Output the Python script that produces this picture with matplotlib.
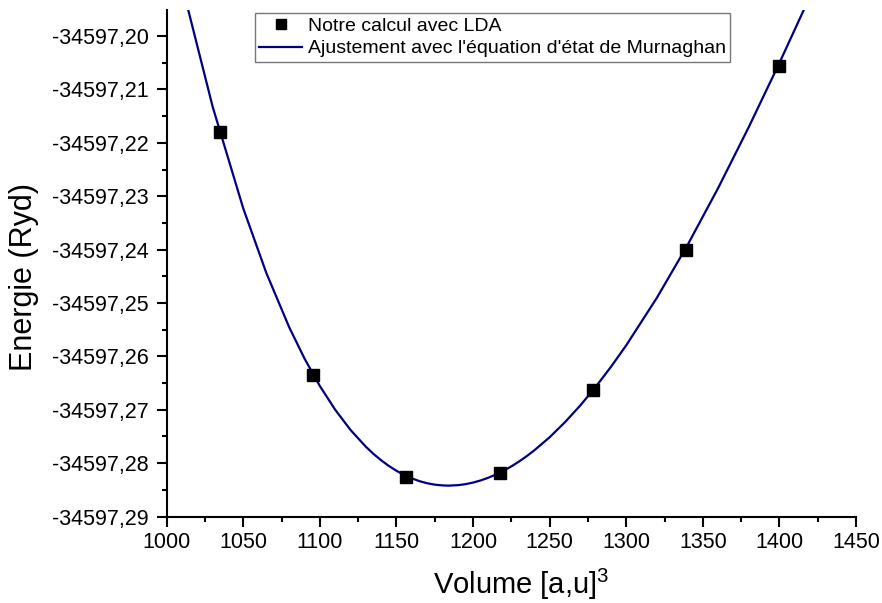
import matplotlib
matplotlib.use("Agg")
import matplotlib.pyplot as plt
from matplotlib.ticker import MultipleLocator, FuncFormatter

# --- data ---
volumes = [1035.0, 1095.6, 1156.5, 1217.5, 1278.0, 1339.0, 1399.5]
energies = [-34597.2179, -34597.2635, -34597.2825, -34597.2818,
            -34597.2663, -34597.2401, -34597.2057]

# points along the Murnaghan fit curve (smoothed by eye)
fit_volumes = [1010, 1030, 1050, 1065, 1080, 1090, 1100, 1110, 1120, 1130,
               1135, 1140, 1145, 1150, 1155, 1160, 1165, 1170, 1175, 1180,
               1184, 1190, 1195, 1200, 1205, 1210, 1215, 1220, 1225, 1230,
               1235, 1240, 1250, 1260, 1270, 1280, 1290, 1300, 1320, 1340,
               1360, 1380, 1400, 1420]
fit_energies = [-34597.19050, -34597.21324, -34597.23230, -34597.24434,
                -34597.25456, -34597.26042, -34597.26555, -34597.26999,
                -34597.27377, -34597.27691, -34597.27826, -34597.27945,
                -34597.28051, -34597.28142, -34597.28220, -34597.28284,
                -34597.28336, -34597.28375, -34597.28402, -34597.28416,
                -34597.28420, -34597.28412, -34597.28393, -34597.28363,
                -34597.28323, -34597.28272, -34597.28211, -34597.28140,
                -34597.28060, -34597.27969, -34597.27869, -34597.27759,
                -34597.27514, -34597.27233, -34597.26919, -34597.26573,
                -34597.26197, -34597.25793, -34597.24903, -34597.23917,
                -34597.22848, -34597.21706, -34597.20505, -34597.19257]

x_ticks = [1000, 1050, 1100, 1150, 1200, 1250, 1300, 1350, 1400, 1450]
y_ticks = [-34597.29, -34597.28, -34597.27, -34597.26, -34597.25,
           -34597.24, -34597.23, -34597.22, -34597.21, -34597.20]

plt.rcParams['font.family'] = ['Liberation Sans', 'DejaVu Sans']
plt.rcParams['mathtext.fontset'] = 'custom'
plt.rcParams['mathtext.rm'] = 'Liberation Sans'

fig = plt.figure(figsize=(8.82, 6.03), dpi=100)
ax = fig.add_axes([0.189, 0.1433, 0.7815, 0.8401])

# fitted curve under the markers
ax.plot(fit_volumes, fit_energies, color='#000080', lw=1.6,
        label="Ajustement avec l'équation d'état de Murnaghan", zorder=2)
ax.plot(volumes, energies, ls='none', marker='s', ms=8, mfc='black',
        mec='black', label='Notre calcul avec LDA', zorder=3)

ax.set_xlim(1000, 1450)
ax.set_ylim(-34597.29, -34597.19513)
ax.set_xticks(x_ticks)
ax.set_yticks(y_ticks)
ax.xaxis.set_minor_locator(MultipleLocator(25))
ax.yaxis.set_minor_locator(MultipleLocator(0.005))
ax.yaxis.set_major_formatter(FuncFormatter(lambda v, p: f"{v:.2f}".replace('.', ',')))
ax.xaxis.set_major_formatter(FuncFormatter(lambda v, p: f"{v:.0f}"))

for s in ['top', 'right']:
    ax.spines[s].set_visible(False)
for s in ['left', 'bottom']:
    ax.spines[s].set_linewidth(1.5)

ax.tick_params(which='major', direction='out', length=7, width=1.5,
               labelsize=15.5, pad=4)
ax.tick_params(which='minor', direction='out', length=3.8, width=1.5)
ax.tick_params(axis='y', which='major', pad=6)

ax.set_xlabel('Volume [a,u]$^3$', fontsize=21, labelpad=10)
ax.xaxis.label.set_x(0.514)
ax.set_ylabel('Energie (Ryd)', fontsize=22, labelpad=9)
ax.yaxis.label.set_y(0.473)

handles, labels = ax.get_legend_handles_labels()
leg = ax.legend(handles[::-1], labels[::-1], loc='upper left',
                bbox_to_anchor=(0.128, 0.994), borderaxespad=0,
                fontsize=14, frameon=True, fancybox=False,
                handlelength=2.2, handletextpad=0.3, labelspacing=0.25,
                borderpad=0.22, markerscale=0.85)
leg.get_frame().set_edgecolor('#555555')
leg.get_frame().set_linewidth(1.0)

fig.savefig('out.png', dpi=100)
